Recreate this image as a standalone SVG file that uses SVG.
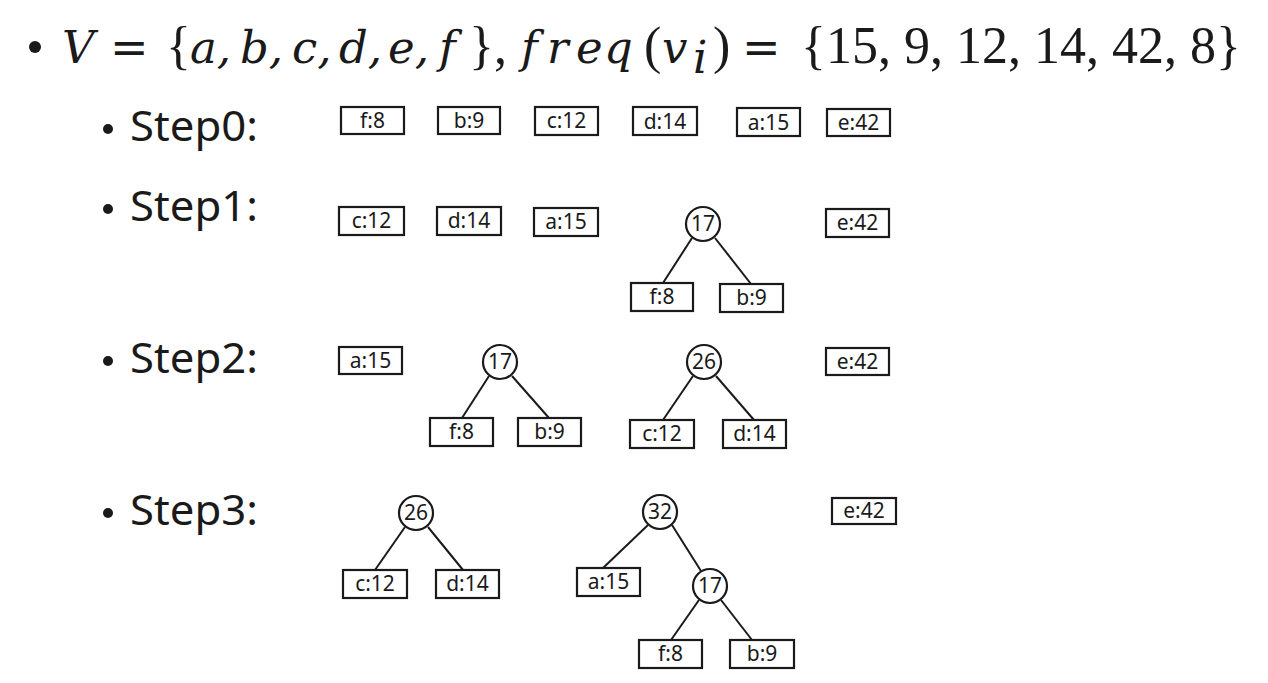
<svg xmlns="http://www.w3.org/2000/svg" width="1268" height="683" viewBox="0 0 1268 683">
<style>
.m{font-family:"Liberation Serif","DejaVu Serif",serif;font-size:52px;fill:#1a1a1a}
.i{font-family:"DejaVu Serif","Liberation Serif",serif;font-style:italic;font-size:45px}
.u{font-family:"DejaVu Serif","Liberation Serif",serif;font-size:46px}
.st{font-family:"Noto Sans","Open Sans",sans-serif;font-size:42px;fill:#1a1a1a}
.bx rect{fill:#fff;stroke:#1a1a1a;stroke-width:2.2}
.bx text,.cn text{font-family:"Noto Sans","Open Sans",sans-serif;font-size:21px;fill:#1a1a1a;text-anchor:middle}
.cn circle{fill:#fff;stroke:#1a1a1a;stroke-width:2.2}
.ed line{stroke:#1a1a1a;stroke-width:2}
.bl{fill:#1a1a1a}
</style>
<rect width="1268" height="683" fill="#fff"/>
<g id="title">
<circle class="bl" cx="35" cy="47" r="6"/>
<text class="m" y="63"><tspan class="i" x="62">V</tspan><tspan class="u" x="110">=</tspan><tspan x="166">{</tspan><tspan class="i" x="190">a,</tspan><tspan class="i" x="240">b,</tspan><tspan class="i" x="292">c,</tspan><tspan class="i" x="339">d,</tspan><tspan class="i" x="388">e,</tspan><tspan class="i" x="439">f</tspan><tspan x="469">},</tspan><tspan class="i" x="521">f</tspan><tspan class="i" x="547">r</tspan><tspan class="i" x="576">e</tspan><tspan class="i" x="604">q</tspan><tspan x="644">(</tspan><tspan class="i" x="662">v</tspan><tspan class="i" x="693" y="73" font-size="30">i</tspan><tspan x="713" y="63">)</tspan><tspan class="u" x="742">=</tspan><tspan x="801">{15, 9, 12, 14, 42, 8}</tspan></text>
</g>
<g id="step-labels">
<circle class="bl" cx="108" cy="129" r="5"/>
<text class="st" x="130" y="141" textLength="128" lengthAdjust="spacingAndGlyphs">Step0:</text>
<circle class="bl" cx="108" cy="209" r="5"/>
<text class="st" x="130" y="221" textLength="128" lengthAdjust="spacingAndGlyphs">Step1:</text>
<circle class="bl" cx="108" cy="361" r="5"/>
<text class="st" x="130" y="373" textLength="128" lengthAdjust="spacingAndGlyphs">Step2:</text>
<circle class="bl" cx="108" cy="513" r="5"/>
<text class="st" x="130" y="525" textLength="128" lengthAdjust="spacingAndGlyphs">Step3:</text>
</g>
<g id="connectors" class="ed">
<line x1="692" y1="238" x2="663" y2="283"/>
<line x1="715" y1="238" x2="751" y2="284"/>
<line x1="489" y1="376" x2="462" y2="418"/>
<line x1="512" y1="376" x2="549" y2="418"/>
<line x1="693" y1="376" x2="663" y2="420"/>
<line x1="716" y1="376" x2="754" y2="420"/>
<line x1="405" y1="527" x2="375" y2="570"/>
<line x1="428" y1="527" x2="463" y2="570"/>
<line x1="648" y1="525" x2="603" y2="568"/>
<line x1="672" y1="525" x2="701" y2="571"/>
<line x1="699" y1="600" x2="671" y2="640"/>
<line x1="721" y1="600" x2="752" y2="640"/>
</g>
<g id="step0">
<g id="s0-f" class="bx"><rect x="341" y="107" width="63" height="27"/><text x="372.5" y="128">f:8</text></g>
<g id="s0-b" class="bx"><rect x="438" y="107" width="62" height="27"/><text x="469" y="128">b:9</text></g>
<g id="s0-c" class="bx"><rect x="535" y="107" width="63" height="28"/><text x="566.5" y="128">c:12</text></g>
<g id="s0-d" class="bx"><rect x="633" y="107" width="64" height="28"/><text x="665" y="129">d:14</text></g>
<g id="s0-a" class="bx"><rect x="737" y="108" width="63" height="28"/><text x="768.5" y="130">a:15</text></g>
<g id="s0-e" class="bx"><rect x="827" y="109" width="63" height="27"/><text x="858.5" y="130">e:42</text></g>
</g>
<g id="step1">
<g id="s1-c" class="bx"><rect x="339" y="207" width="65" height="28"/><text x="371.5" y="228">c:12</text></g>
<g id="s1-d" class="bx"><rect x="437" y="207" width="64" height="28"/><text x="469" y="228">d:14</text></g>
<g id="s1-a" class="bx"><rect x="534" y="208" width="64" height="28"/><text x="566" y="229">a:15</text></g>
<g id="s1-17" class="cn"><circle cx="703" cy="224" r="17"/><text x="703" y="231">17</text></g>
<g id="s1-e" class="bx"><rect x="826" y="209" width="63" height="28"/><text x="857.5" y="230">e:42</text></g>
<g id="s1-f" class="bx"><rect x="631" y="283" width="62" height="28"/><text x="662" y="304">f:8</text></g>
<g id="s1-b" class="bx"><rect x="720" y="284" width="63" height="28"/><text x="751.5" y="305">b:9</text></g>
</g>
<g id="step2">
<g id="s2-a" class="bx"><rect x="339" y="347" width="63" height="27"/><text x="370.5" y="368">a:15</text></g>
<g id="s2-17" class="cn"><circle cx="500" cy="362" r="17"/><text x="500" y="369">17</text></g>
<g id="s2-f" class="bx"><rect x="430" y="418" width="63" height="28"/><text x="461.5" y="439">f:8</text></g>
<g id="s2-b" class="bx"><rect x="518" y="418" width="63" height="28"/><text x="549.5" y="439">b:9</text></g>
<g id="s2-26" class="cn"><circle cx="704" cy="362" r="17"/><text x="704" y="369">26</text></g>
<g id="s2-c" class="bx"><rect x="630" y="420" width="64" height="28"/><text x="662" y="441">c:12</text></g>
<g id="s2-d" class="bx"><rect x="723" y="420" width="63" height="28"/><text x="754.5" y="441">d:14</text></g>
<g id="s2-e" class="bx"><rect x="826" y="348" width="63" height="27"/><text x="857.5" y="369">e:42</text></g>
</g>
<g id="step3">
<g id="s3-26" class="cn"><circle cx="416" cy="513" r="17"/><text x="416" y="520">26</text></g>
<g id="s3-c" class="bx"><rect x="343" y="570" width="64" height="28"/><text x="375" y="591">c:12</text></g>
<g id="s3-d" class="bx"><rect x="436" y="570" width="63" height="28"/><text x="467.5" y="591">d:14</text></g>
<g id="s3-32" class="cn"><circle cx="660" cy="512" r="17"/><text x="660" y="519">32</text></g>
<g id="s3-a" class="bx"><rect x="577" y="568" width="63" height="28"/><text x="608.5" y="589">a:15</text></g>
<g id="s3-17" class="cn"><circle cx="710" cy="586" r="17"/><text x="710" y="593">17</text></g>
<g id="s3-f" class="bx"><rect x="639" y="640" width="63" height="28"/><text x="670.5" y="661">f:8</text></g>
<g id="s3-b" class="bx"><rect x="730" y="640" width="64" height="28"/><text x="762" y="661">b:9</text></g>
<g id="s3-e" class="bx"><rect x="832" y="498" width="64" height="26"/><text x="864" y="518">e:42</text></g>
</g>
</svg>
